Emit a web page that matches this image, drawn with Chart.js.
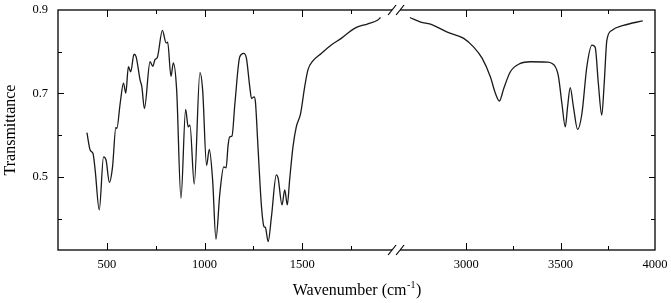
<!DOCTYPE html>
<html>
<head>
<meta charset="utf-8">
<script src="https://cdn.jsdelivr.net/npm/chart.js@4.4.0/dist/chart.umd.min.js"></script>
<style>
  html, body { margin: 0; padding: 0; background: #fff; }
  #contenedor { width: 671px; height: 303px; }
</style>
</head>
<body>
<div id="contenedor"><canvas id="espectro"></canvas></div>
<script>
// Tramo bajo del espectro (antes del corte del eje)
const numOndaBajo = [398, 415, 429, 440, 461, 483, 496, 513, 529, 546, 551, 568, 585, 597, 610,
  622, 639, 649, 670, 679, 692, 721, 735, 746, 758, 784, 803, 811, 828, 840, 857, 879, 903, 916,
  925, 947, 976, 990, 1010, 1024, 1041, 1058, 1078, 1098, 1110, 1120, 1128, 1140, 1155, 1180,
  1200, 1214, 1231, 1240, 1253, 1260, 1273, 1291, 1304, 1311, 1325, 1342, 1367, 1376, 1396,
  1410, 1423, 1435, 1452, 1469, 1491, 1512, 1529, 1554, 1597, 1648, 1699, 1767, 1835, 1886, 1900];
const transBajo = [0.606, 0.564, 0.556, 0.517, 0.421, 0.548, 0.540, 0.487, 0.524, 0.619, 0.616,
  0.676, 0.725, 0.701, 0.764, 0.752, 0.794, 0.789, 0.732, 0.716, 0.664, 0.776, 0.765, 0.781,
  0.786, 0.851, 0.821, 0.823, 0.741, 0.773, 0.708, 0.449, 0.662, 0.620, 0.624, 0.483, 0.750,
  0.708, 0.528, 0.566, 0.493, 0.351, 0.461, 0.524, 0.522, 0.575, 0.596, 0.598, 0.676, 0.788,
  0.796, 0.784, 0.716, 0.688, 0.692, 0.680, 0.572, 0.429, 0.381, 0.379, 0.345, 0.405, 0.505,
  0.497, 0.433, 0.469, 0.433, 0.493, 0.572, 0.620, 0.652, 0.716, 0.757, 0.778, 0.796, 0.816,
  0.832, 0.856, 0.867, 0.876, 0.882];

// Tramo alto del espectro (después del corte)
const numOndaAlto = [2702, 2759, 2811, 2900, 2987, 3040, 3085, 3128, 3155, 3176, 3199, 3234,
  3287, 3340, 3428, 3472, 3489, 3507, 3525, 3537, 3551, 3568, 3590, 3613, 3639, 3666, 3683,
  3700, 3718, 3731, 3745, 3771, 3833, 3935];
const transAlto = [0.882, 0.871, 0.866, 0.847, 0.832, 0.811, 0.784, 0.740, 0.700, 0.682, 0.712,
  0.752, 0.772, 0.776, 0.775, 0.764, 0.740, 0.676, 0.620, 0.668, 0.714, 0.668, 0.614, 0.652,
  0.764, 0.816, 0.811, 0.724, 0.648, 0.724, 0.827, 0.851, 0.863, 0.874];

// Etiquetas de los ejes
const etiquetasY = [0.5, 0.7, 0.9];
const etiquetasXBajo = [500, 1000, 1500];
const etiquetasXAlto = [3000, 3500, 4000];

const fuente = '"Liberation Serif", "Times New Roman", serif';
Chart.defaults.font.family = fuente;
Chart.defaults.color = '#000';

const esDecima = (v) => Math.abs(v * 10 - Math.round(v * 10)) < 1e-6;

// Marco, marcas hacia dentro, corte del eje y título con superíndice
const marco = {
  id: 'marco',
  afterDraw(chart) {
    const { ctx, chartArea: a, scales } = chart;
    const linea = (x1, y1, x2, y2) => {
      ctx.beginPath(); ctx.moveTo(x1, y1); ctx.lineTo(x2, y2); ctx.stroke();
    };
    ctx.save();
    ctx.strokeStyle = '#000';
    ctx.lineWidth = 1.3;
    ctx.strokeRect(a.left, a.top, a.width, a.height);

    ctx.lineWidth = 1;
    ['xBajo', 'xAlto'].forEach((id) => {
      const s = scales[id];
      s.ticks.forEach(({ value }) => {
        if (value <= s.min || value >= s.max || value % 250 !== 0) return;
        const largo = value % 500 === 0 ? 7 : 4;
        const x = Math.round(s.getPixelForValue(value)) + 0.5;
        linea(x, a.bottom, x, a.bottom - largo);
        linea(x, a.top, x, a.top + largo);
      });
    });
    const sy = scales.y;
    sy.ticks.forEach(({ value }) => {
      if (value <= sy.min || value >= sy.max || !esDecima(value)) return;
      const largo = Math.round(value * 10) % 2 === 1 ? 6 : 4;
      const y = Math.round(sy.getPixelForValue(value)) + 0.5;
      linea(a.left, y, a.left + largo, y);
      linea(a.right, y, a.right - largo, y);
    });

    // Corte del eje: hueco en el marco y dos barras inclinadas
    const xc = scales.xBajo.right - 3;
    [a.top, a.bottom].forEach((yb) => {
      ctx.fillStyle = '#fff';
      ctx.fillRect(xc - 5, yb - 2, 8, 4);
      ctx.lineWidth = 1.2;
      linea(xc - 9, yb + 5, xc - 1, yb - 5);
      linea(xc - 1, yb + 5, xc + 7, yb - 5);
    });

    // Título del eje x
    const cx = (a.left + a.right) / 2;
    const yBase = 295;
    const t1 = 'Wavenumber (cm', t2 = '-1', t3 = ')';
    ctx.fillStyle = '#000';
    ctx.textBaseline = 'alphabetic';
    ctx.textAlign = 'left';
    ctx.font = '16px ' + fuente;
    const w1 = ctx.measureText(t1).width, w3 = ctx.measureText(t3).width;
    ctx.font = '10px ' + fuente;
    const w2 = ctx.measureText(t2).width;
    let x0 = cx - (w1 + w2 + w3) / 2;
    ctx.font = '16px ' + fuente;
    ctx.fillText(t1, x0, yBase);
    ctx.font = '10px ' + fuente;
    ctx.fillText(t2, x0 + w1 + 0.5, yBase - 7);
    ctx.font = '16px ' + fuente;
    ctx.fillText(t3, x0 + w1 + w2 + 1, yBase);
    ctx.restore();
  }
};

const ejeX = (min, max, peso, etiquetas) => ({
  type: 'linear',
  axis: 'x',
  position: 'bottom',
  stack: 'abajo',
  stackWeight: peso,
  min: min,
  max: max,
  grid: { display: true, drawOnChartArea: false, drawTicks: false },
  border: { display: false },
  ticks: {
    stepSize: 250,
    autoSkip: false,
    maxRotation: 0,
    padding: 7,
    font: { size: 12.5 },
    callback: (v) => (etiquetas.includes(v) ? String(v) : '')
  },
  afterFit: (scale) => {
    scale.height = 53;
    scale.paddingLeft = 0;
    scale.paddingRight = 0;
  }
});

const ctx = document.getElementById('espectro').getContext('2d');
new Chart(ctx, {
  type: 'line',
  data: {
    datasets: [
      {
        data: numOndaBajo.map((x, i) => ({ x, y: transBajo[i] })),
        xAxisID: 'xBajo',
        yAxisID: 'y',
        borderColor: '#1a1a1a',
        borderWidth: 1.3,
        pointRadius: 0,
        cubicInterpolationMode: 'monotone',
        fill: false
      },
      {
        data: numOndaAlto.map((x, i) => ({ x, y: transAlto[i] })),
        xAxisID: 'xAlto',
        yAxisID: 'y',
        borderColor: '#1a1a1a',
        borderWidth: 1.3,
        pointRadius: 0,
        cubicInterpolationMode: 'monotone',
        fill: false
      }
    ]
  },
  options: {
    responsive: true,
    maintainAspectRatio: false,
    animation: false,
    layout: { padding: { top: 10, right: 16, bottom: 0, left: 0 } },
    plugins: { legend: { display: false }, tooltip: { enabled: false } },
    scales: {
      xBajo: ejeX(250, 2000, 343, etiquetasXBajo),
      xAlto: ejeX(2650, 4000, 255.6, etiquetasXAlto),
      y: {
        type: 'linear',
        position: 'left',
        min: 0.325,
        max: 0.9,
        grid: { display: true, drawOnChartArea: false, drawTicks: false },
        border: { display: false },
        ticks: {
          stepSize: 0.1,
          padding: 10,
          font: { size: 12.5 },
          callback: (v) => (etiquetasY.some((t) => Math.abs(t - v) < 1e-6) ? v.toFixed(1) : '')
        },
        title: {
          display: true,
          text: 'Transmittance',
          font: { size: 16 },
          padding: { top: 1, bottom: 0 }
        },
        afterFit: (scale) => {
          scale.width = 58;
          scale.paddingTop = 0;
          scale.paddingBottom = 0;
        }
      }
    }
  },
  plugins: [marco]
});
</script>
</body>
</html>
